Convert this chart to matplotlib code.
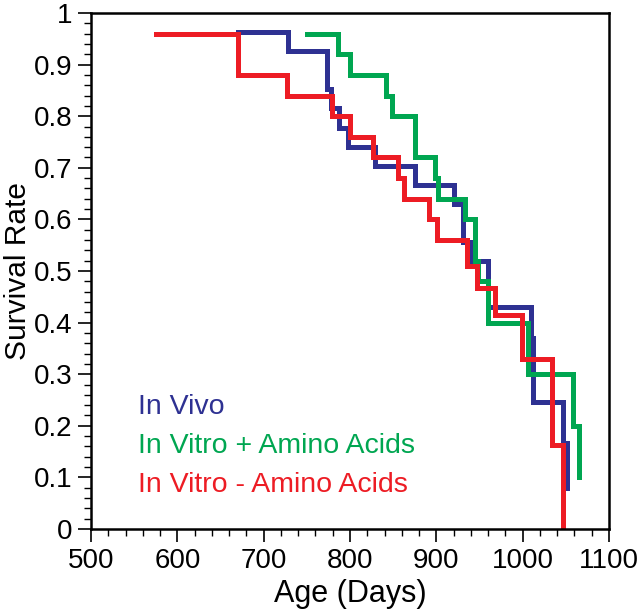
import matplotlib
matplotlib.use("Agg")
import matplotlib.pyplot as plt
from matplotlib.ticker import MultipleLocator

# Survival curves (age in days, fraction surviving after each step).
vivo_days = [670, 728, 773, 778, 787, 798, 829, 875, 921, 931, 941, 960, 1010, 1012, 1047, 1051]
vivo_surv = [0.963, 0.926, 0.852, 0.815, 0.778, 0.741, 0.704, 0.667, 0.630, 0.556, 0.519, 0.430, 0.370, 0.246, 0.167, 0.080]

plus_days = [750, 786, 800, 842, 849, 875, 899, 902, 933, 945, 948, 960, 1006, 1058, 1065]
plus_surv = [0.96, 0.92, 0.88, 0.84, 0.80, 0.72, 0.68, 0.64, 0.60, 0.52, 0.48, 0.40, 0.30, 0.20, 0.10]

minus_days = [575, 670, 727, 779, 800, 827, 855, 862, 892, 901, 936, 947, 968, 999, 1034, 1047]
minus_surv = [0.96, 0.88, 0.84, 0.80, 0.76, 0.72, 0.68, 0.64, 0.60, 0.56, 0.51, 0.467, 0.415, 0.33, 0.163, 0.0]

labels = ["In Vivo", "In Vitro + Amino Acids", "In Vitro - Amino Acids"]
colors = ["#2e3192", "#00a651", "#ed1c24"]

plt.rcParams["font.family"] = ["Liberation Sans", "DejaVu Sans"]

fig = plt.figure(figsize=(6.4, 6.12), dpi=100)
ax = fig.add_axes([0.1422, 0.1356, 0.8094, 0.8432])

series = [(vivo_days, vivo_surv), (plus_days, plus_surv), (minus_days, minus_surv)]
for (d, s), c in zip(series, colors):
    ax.step(d, s, where="post", color=c, lw=3.6, solid_joinstyle="miter")

ax.set_xlim(500, 1100)
ax.set_ylim(0, 1)
ax.xaxis.set_major_locator(MultipleLocator(100))
ax.xaxis.set_minor_locator(MultipleLocator(20))
ax.yaxis.set_minor_locator(MultipleLocator(0.02))
ax.set_yticks([i / 10 for i in range(11)])
ax.set_yticklabels(["0"] + ["0.%d" % i for i in range(1, 10)] + ["1"])

for sp in ax.spines.values():
    sp.set_linewidth(1.8)
ax.tick_params(which="major", direction="out", length=9.5, width=1.2, labelsize=20, pad=4)
ax.tick_params(which="minor", direction="out", length=5, width=1.0)
ax.tick_params(top=False, right=False, which="both")

ax.set_xlabel("Age (Days)", fontsize=22, labelpad=4)
ax.set_ylabel("Survival Rate", fontsize=21.5, labelpad=1)

for i, (lab, c) in enumerate(zip(labels, colors)):
    ax.text(555, 0.237 - i * 0.0755, lab, color=c, fontsize=20.5, va="center", ha="left")

fig.savefig("out.png", dpi=100)
